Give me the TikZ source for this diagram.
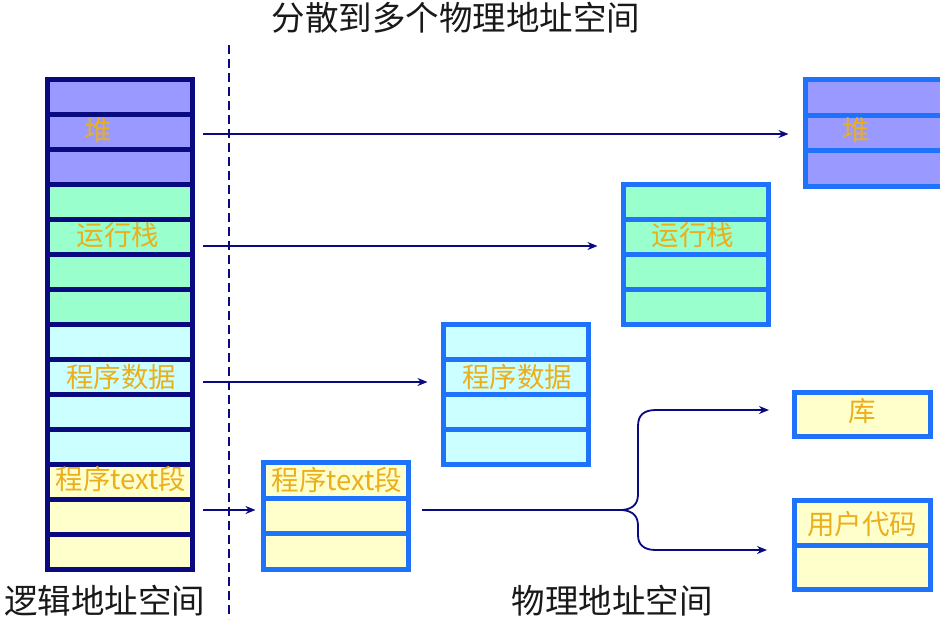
\documentclass[tikz,border=0pt]{standalone}
\usepackage{fontspec}
\newfontfamily\cjk{Noto Sans CJK SC}
\usetikzlibrary{arrows.meta}
\definecolor{navy}{RGB}{10,10,128}
\definecolor{pblue}{RGB}{30,115,250}
\definecolor{heapc}{RGB}{153,153,255}
\definecolor{stackc}{RGB}{153,255,204}
\definecolor{datac}{RGB}{204,255,255}
\definecolor{textc}{RGB}{255,255,204}
\definecolor{labc}{RGB}{235,175,30}
\definecolor{captc}{RGB}{25,25,25}
\tikzset{
  cellbase/.style={line width=5pt, anchor=north west, inner sep=0pt, outer sep=0pt},
  lcell/.style={cellbase, draw=navy, minimum width=145pt, minimum height=35pt},
  pcell/.style={cellbase, draw=pblue},
  lab/.style={text=labc, font=\cjk\fontsize{27.5}{27.5}\selectfont, inner sep=0pt},
  capt/.style={text=captc, font=\cjk\fontsize{33.5}{33.5}\selectfont, inner sep=0pt},
  arr/.style={draw=navy, line width=1.8pt, -{Stealth[length=10pt,width=8pt]}},
  conn/.style={draw=navy, line width=1.8pt},
}
\begin{document}
\begin{tikzpicture}[x=1pt,y=-1pt]
\clip (0,0) rectangle (940,619);
\fill[white] (0,0) rectangle (940,619);

% title and captions
\node[capt] (title) at (456,18) {分散到多个物理地址空间};
\node[capt] (capL) at (105,601) {逻辑地址空间};
\node[capt] (capP) at (612,601) {物理地址空间};

% divider
\coordinate (dTop) at (229,45);
\coordinate (dBot) at (229,619);
\draw[navy, line width=1.8pt, dash pattern=on 9pt off 5pt] (dTop) -- (dBot);

% logical address space column
\foreach \i in {1,...,14}{
  \pgfmathsetmacro{\yy}{79.5+35*(\i-1)}
  \ifnum\i<4 \def\cc{heapc}\else\ifnum\i<8 \def\cc{stackc}\else\ifnum\i<12 \def\cc{datac}\else\def\cc{textc}\fi\fi\fi
  \node[lcell, fill=\cc] (L\i) at (47.5,\yy) {};
}
\node[lab] (lH) at (98,130) {堆};
\node[lab] (lS) at (118,235) {运行栈};
\node[lab] (lD) at (121,377) {程序数据};
\node[lab] (lT) at (121,479) {程序text段};

% physical heap
\foreach \i in {1,2,3}{
  \pgfmathsetmacro{\yy}{79.5+35.5*(\i-1)}
  \node[pcell, fill=heapc, minimum width=150pt, minimum height=35.5pt] (PH\i) at (805.5,\yy) {};
}
\node[lab] (pHl) at (856,130) {堆};

% physical stack
\foreach \i in {1,...,4}{
  \pgfmathsetmacro{\yy}{184.5+35*(\i-1)}
  \node[pcell, fill=stackc, minimum width=145pt, minimum height=35pt] (PS\i) at (623.5,\yy) {};
}
\node[lab] (pSl) at (693,235) {运行栈};

% physical data
\foreach \i in {1,...,4}{
  \pgfmathsetmacro{\yy}{324.5+35*(\i-1)}
  \node[pcell, fill=datac, minimum width=145pt, minimum height=35pt] (PD\i) at (443.5,\yy) {};
}
\node[lab] (pDl) at (517,377) {程序数据};

% physical text
\foreach \i in {1,2,3}{
  \pgfmathsetmacro{\yy}{462.5+35.5*(\i-1)}
  \node[pcell, fill=textc, minimum width=145pt, minimum height=35.5pt] (PT\i) at (263.5,\yy) {};
}
\node[lab] (pTl) at (337,480) {程序text段};

% library
\node[pcell, fill=textc, minimum width=136pt, minimum height=44pt] (Lib) at (794.5,392.5) {};
\node[lab] (libl) at (862,411) {库};

% user code
\node[pcell, fill=textc, minimum width=136pt, minimum height=44.5pt] (U1) at (794.5,500.5) {};
\node[pcell, fill=textc, minimum width=136pt, minimum height=44.5pt] (U2) at (794.5,545) {};
\node[lab] (ul) at (862,524) {用户代码};

% mapping arrows
\coordinate (aH) at (203,134);
\coordinate (aS) at (203,246);
\coordinate (aD) at (203,382);
\coordinate (aT) at (203,510);
\draw[arr, shorten >=17pt] (aH) -- (aH -| PH2.west);
\draw[arr, shorten >=26pt] (aS) -- (aS -| PS2.west);
\draw[arr, shorten >=16pt] (aD) -- (aD -| PD2.west);
\draw[arr, shorten >=8pt] (aT) -- (aT -| PT2.west);

% branching connector
\coordinate (bS) at (422,510);
\coordinate (bJ) at (622,510);
\coordinate (bUp) at (769,410);
\coordinate (bDn) at (767,550);
\draw[conn] (bS) -- (bJ);
\draw[arr] (bJ) .. controls (634,509) and (638,503) .. (638,494) -- (638,426)
  .. controls (638,415) and (644,410) .. (656,410) -- (bUp);
\draw[arr] (bJ) .. controls (634,511) and (638,517) .. (638,526) -- (638,535)
  .. controls (638,545) and (644,550) .. (656,550) -- (bDn);
\end{tikzpicture}
\end{document}
